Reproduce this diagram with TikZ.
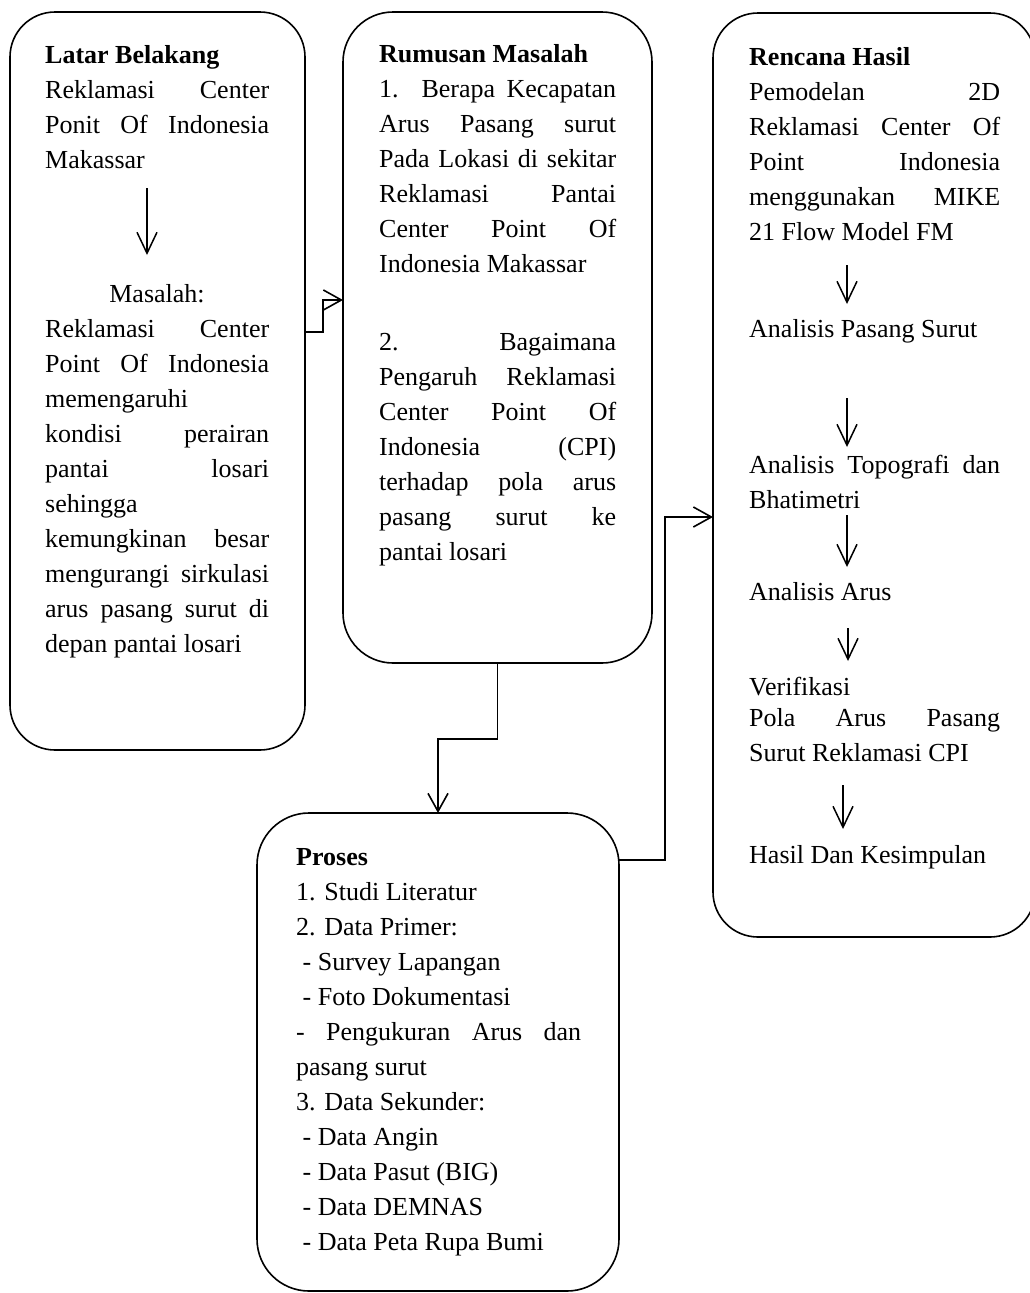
\documentclass[tikz,border=0pt]{standalone}
\usepackage{fontspec}
\setmainfont{Liberation Serif}
\usetikzlibrary{arrows.meta}

\newcommand{\bodyfont}{\fontsize{26}{35}\selectfont\hyphenpenalty=10000\exhyphenpenalty=10000\tolerance=10000\relax}

\tikzset{
  box/.style={draw, line width=1.6pt, rounded corners=#1, inner sep=0pt, outer sep=0pt},
  box/.default=48pt,
  txt/.style={inner sep=0pt, anchor=base west, align=justify, font=\bodyfont},
  arr/.style={-{Straight Barb[length=21pt,width=20pt]}, line width=1.5pt},
  conn/.style={-{Straight Barb[length=18pt,width=20pt]}, line width=1.6pt},
}

\begin{document}
\begin{tikzpicture}[x=1pt, y=-1pt]
  \useasboundingbox (0,0) rectangle (1030,1293);

  % 枠を描画
  \node[box=45pt, minimum width=295pt, minimum height=738pt] (lb) at (157.5,381) {};
  \node[box=50pt, minimum width=309pt, minimum height=651pt] (rm) at (497.5,337.5) {};
  \node[box=45pt, minimum width=322pt, minimum height=924pt] (rh) at (874,475) {};
  \node[box=52pt, minimum width=362pt, minimum height=478pt] (pr) at (438,1052) {};

  % Latar Belakang
  \node[txt, text width=224pt] (lbA) at (45,63)
    {\textbf{Latar Belakang}\\
     Reklamasi Center\linebreak Ponit Of Indonesia\linebreak Makassar};
  \node[txt, anchor=base] (lbB) at (157,302) {Masalah:};
  \node[txt, text width=224pt] (lbC) at (45,337)
    {Reklamasi Center\linebreak Point Of Indonesia\linebreak memengaruhi\linebreak
     kondisi perairan\linebreak pantai losari\linebreak sehingga\linebreak
     kemungkinan besar\linebreak mengurangi sirkulasi\linebreak
     arus pasang surut di\linebreak depan pantai losari};
  \draw[arr] (147,188) -- (147,255);

  % Rumusan Masalah
  \node[txt, text width=237pt] (rmA) at (379,62)
    {\textbf{Rumusan Masalah}\\
     1. Berapa Kecapatan\linebreak Arus Pasang surut\linebreak
     Pada Lokasi di sekitar\linebreak Reklamasi Pantai\linebreak
     Center Point Of\linebreak Indonesia Makassar};
  \node[txt, text width=237pt] (rmB) at (379,350)
    {2. Bagaimana\linebreak Pengaruh Reklamasi\linebreak Center Point Of\linebreak
     Indonesia (CPI)\linebreak terhadap pola arus\linebreak pasang surut ke\linebreak
     pantai losari};

  % Rencana Hasil
  \node[txt, text width=251pt] (rhA) at (749,65)
    {\textbf{Rencana Hasil}\\
     Pemodelan 2D\linebreak Reklamasi Center Of\linebreak Point Indonesia\linebreak
     menggunakan MIKE\linebreak 21 Flow Model FM};
  \node[txt, text width=251pt] (rhB) at (749,337) {Analisis Pasang Surut};
  \node[txt, text width=251pt] (rhC) at (749,473) {Analisis Topografi dan\linebreak Bhatimetri};
  \node[txt, text width=251pt] (rhD) at (749,600) {Analisis Arus};
  \node[txt, text width=251pt] (rhE) at (749,695)
    {Verifikasi\\[-4pt] Pola Arus Pasang\linebreak Surut Reklamasi CPI};
  \node[txt, text width=251pt] (rhF) at (749,863) {Hasil Dan Kesimpulan};
  \foreach \x/\ya/\yb in {847/265/304, 847/398/447, 847/515/567, 848/628/661, 843/785/829}
    \draw[arr] (\x,\ya) -- (\x,\yb);

  % Proses
  \node[txt, text width=285pt] (prA) at (296,865)
    {\textbf{Proses}\\
     1. Studi Literatur\\
     2. Data Primer:\\
     \hspace*{0.25em}- Survey Lapangan\\
     \hspace*{0.25em}- Foto Dokumentasi\\
     - Pengukuran Arus dan\linebreak pasang surut\\
     3. Data Sekunder:\\
     \hspace*{0.25em}- Data Angin\\
     \hspace*{0.25em}- Data Pasut (BIG)\\
     \hspace*{0.25em}- Data DEMNAS\\
     \hspace*{0.25em}- Data Peta Rupa Bumi};

  % 枠をつなぐ矢印
  \draw[conn] (lb.east |- 0,332) -| (323,300) -- (rm.west |- 0,300);
  \draw[conn] (rm.south) |- (438,739) -- (pr.north -| 438,0);
  \draw[conn] (pr.east |- 0,860) -| (665,517) -- (rh.west |- 0,517);
\end{tikzpicture}
\end{document}
